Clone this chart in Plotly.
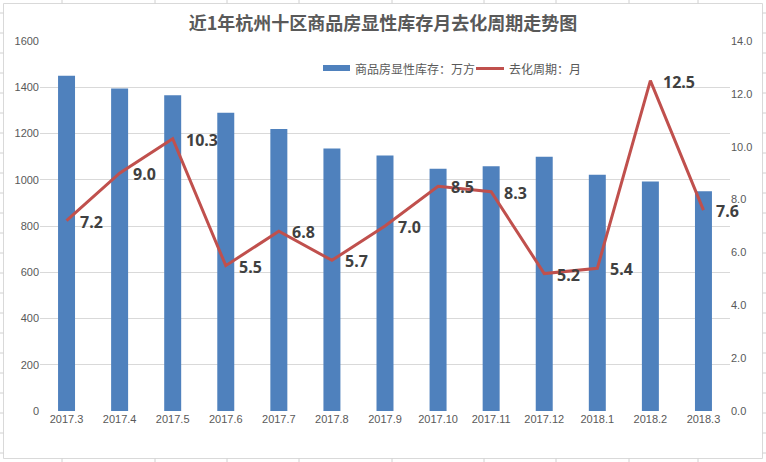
import plotly.graph_objects as go

months = ["2017.3", "2017.4", "2017.5", "2017.6", "2017.7", "2017.8", "2017.9",
          "2017.10", "2017.11", "2017.12", "2018.1", "2018.2", "2018.3"]
inventory = [1450, 1395, 1365, 1290, 1220, 1135, 1105, 1048, 1058, 1100, 1022, 992, 950]
cycle = [7.2, 9.0, 10.3, 5.5, 6.8, 5.7, 7.0, 8.5, 8.3, 5.2, 5.4, 12.5, 7.6]
left_ticks = [0, 200, 400, 600, 800, 1000, 1200, 1400, 1600]
right_ticks = [0, 2, 4, 6, 8, 10, 12, 14]
bar_name = "商品房显性库存：万方"
line_name = "去化周期：月"
title_text = "近1年杭州十区商品房显性库存月去化周期走势图"

W, H = 766, 462
L, R, T, B = 40, 36, 41, 51
PW, PH = W - L - R, H - T - B

def px(x):
    return (x - L) / PW

def py(y):
    return (H - B - y) / PH

TICK_FONT = dict(family="Liberation Sans, Arial, sans-serif", size=11, color="#595959")
CJK = "Noto Sans CJK SC"
BAR_C = "#4F81BD"
LINE_C = "#C0504D"
GRID_C = "#D9D9D9"

fig = go.Figure()
fig.add_trace(go.Bar(
    x=months, y=inventory, name=bar_name,
    marker=dict(color=BAR_C, line=dict(width=0)),
    yaxis="y",
))
fig.add_trace(go.Scatter(
    x=months, y=cycle, name=line_name, mode="lines",
    line=dict(color=LINE_C, width=3),
    yaxis="y2",
))

annotations = []
for i, v in enumerate(cycle):
    # category axis: position i is the i-th month
    annotations.append(dict(
        x=i, y=v, xref="x", yref="y2", text=f"{v:.1f}", showarrow=False,
        xanchor="left", yanchor="middle", xshift=11, yshift=-1,
        font=dict(family="Noto Sans, sans-serif", size=16, color="#404040", weight="bold"),
    ))

# manual legend
annotations.append(dict(x=px(353), y=py(68), xref="paper", yref="paper", text=bar_name,
                        showarrow=False, xanchor="left", yanchor="middle",
                        font=dict(family=CJK, size=12, color="#595959")))
annotations.append(dict(x=px(507), y=py(68), xref="paper", yref="paper", text=line_name,
                        showarrow=False, xanchor="left", yanchor="middle",
                        font=dict(family=CJK, size=12, color="#595959")))

shapes = [
    dict(type="rect", xref="paper", yref="paper", x0=px(323), x1=px(350), y0=py(71), y1=py(65),
         fillcolor=BAR_C, line=dict(width=0)),
    dict(type="line", xref="paper", yref="paper", x0=px(476), x1=px(504), y0=py(68.5), y1=py(68.5),
         line=dict(color=LINE_C, width=3)),
    # chart frame
    dict(type="rect", xref="paper", yref="paper", x0=px(3.5), x1=px(762.5), y0=py(3.5), y1=py(458.5),
         line=dict(color="#D9D9D9", width=1), fillcolor="rgba(0,0,0,0)", layer="below"),
]
# spreadsheet cell lines around the chart
for cx in [62, 155, 227, 299, 392, 484, 556, 629, 698]:
    for (a, b) in [(0, 3.5), (458.5, 462)]:
        shapes.append(dict(type="line", xref="paper", yref="paper", x0=px(cx), x1=px(cx),
                           y0=py(a), y1=py(b), line=dict(color="#D0D0D0", width=1)))
for ry in range(13, 462, 20):
    for (a, b) in [(0, 3.5), (762.5, 766)]:
        shapes.append(dict(type="line", xref="paper", yref="paper", x0=px(a), x1=px(b),
                           y0=py(ry), y1=py(ry), line=dict(color="#D0D0D0", width=1)))

fig.update_layout(
    width=W, height=H,
    margin=dict(l=L, r=R, t=T, b=B),
    paper_bgcolor="white", plot_bgcolor="white",
    bargap=0.68,
    showlegend=False,
    title=dict(text=title_text, x=0.5, xanchor="center",
               y=0.948, yanchor="middle",
               font=dict(family=CJK, size=18, color="#595959", weight="bold")),
    xaxis=dict(type="category", range=[-0.5, len(months) - 0.5], showgrid=False, ticks="",
               tickfont=TICK_FONT, showline=False, zeroline=False, automargin=False),
    yaxis=dict(range=[0, 1600], tickvals=left_ticks, showgrid=True, gridcolor=GRID_C,
               gridwidth=1, zeroline=False, tickfont=TICK_FONT, ticks="", showline=False,
               automargin=False),
    yaxis2=dict(range=[0, 14], tickvals=right_ticks, tickformat=".1f", overlaying="y",
                side="right", showgrid=False, zeroline=False, tickfont=TICK_FONT, ticks="",
                automargin=False),
    annotations=annotations,
    shapes=shapes,
)

fig.write_html("out.html", config={"displayModeBar": False},
               post_script="document.body.style.margin='0';")
